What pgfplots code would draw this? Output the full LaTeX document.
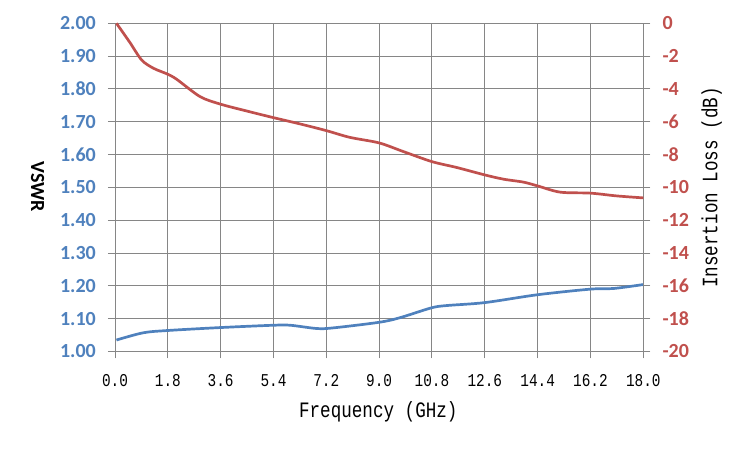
\documentclass[border=0pt]{standalone}
\usepackage{pgfplots}
\pgfplotsset{compat=1.18}
\usepackage{fontspec}
\setmainfont{Carlito}
\newfontfamily\simfont[FakeStretch=0.8]{Liberation Mono}
\definecolor{vblue}{HTML}{4F81BD}
\definecolor{ired}{HTML}{C0504D}
\definecolor{gridgray}{HTML}{868686}
\begin{document}
\begin{tikzpicture}
\path[use as bounding box] (0,0) rectangle (750pt,450pt);
\begin{axis}[
  at={(115pt,98.5pt)}, anchor=south west, scale only axis,
  width=528.3pt, height=328.2pt,
  xmin=0, xmax=18, ymin=1, ymax=2,
  xtick={0,1.8,3.6,5.4,7.2,9,10.8,12.6,14.4,16.2,18},
  xticklabels={0.0,1.8,3.6,5.4,7.2,9.0,10.8,12.6,14.4,16.2,18.0},
  ytick={1,1.1,1.2,1.3,1.4,1.5,1.6,1.7,1.8,1.9,2},
  yticklabels={1.00,1.10,1.20,1.30,1.40,1.50,1.60,1.70,1.80,1.90,2.00},
  grid=major, grid style={color=gridgray, line width=1pt},
  axis x line*=bottom, axis y line*=left,
  axis line style={gridgray, line width=1pt, -},
  tick align=outside, major tick length=7pt,
  tick style={gridgray, line width=1pt},
  xtick pos=bottom, ytick pos=left,
  xticklabel shift=16pt, yticklabel shift=12pt,
  xticklabel style={font=\simfont\fontsize{18}{18}\selectfont, text=black, inner sep=0pt},
  yticklabel style={font=\bfseries\fontsize{20}{20}\selectfont, text=vblue, inner sep=0pt},
  clip=false,
]
\addplot[vblue, line width=2.7pt, smooth, tension=0.5] coordinates {
(0.05,1.035) (0.96,1.057) (1.8,1.064) (3.6,1.073) (5.4,1.080) (5.97,1.080)
(6.88,1.070) (7.44,1.072) (9.0,1.089) (9.71,1.103) (10.78,1.133) (11.3,1.140)
(12.6,1.149) (14.4,1.173) (16.2,1.190) (16.99,1.192) (18.0,1.204)
};
\end{axis}
\begin{axis}[
  at={(115pt,98.5pt)}, anchor=south west, scale only axis,
  width=528.3pt, height=328.2pt,
  xmin=0, xmax=18, ymin=-20, ymax=0,
  axis x line=none, axis y line*=right,
  axis line style={gridgray, line width=1pt, -},
  ytick={-20,-18,-16,-14,-12,-10,-8,-6,-4,-2,0},
  yticklabels={-20,-18,-16,-14,-12,-10,-8,-6,-4,-2,0},
  tick align=outside, major tick length=7pt,
  tick style={gridgray, line width=1pt},
  ytick pos=right, yticklabel shift=12pt,
  yticklabel style={font=\bfseries\fontsize{20}{20}\selectfont, text=ired, inner sep=0pt, anchor=west},
  clip=false,
]
\addplot[ired, line width=2.7pt, smooth, tension=0.5] coordinates {
(0.05,0) (0.5,-1.15) (0.91,-2.24) (1.31,-2.74) (1.78,-3.09) (2.1,-3.41)
(2.9,-4.47) (3.6,-4.93) (4.5,-5.35) (5.4,-5.75) (6.3,-6.13) (7.2,-6.54)
(8.0,-6.95) (9.0,-7.29) (9.83,-7.82) (10.8,-8.43) (11.65,-8.79) (12.6,-9.24)
(13.24,-9.5) (13.92,-9.68) (14.4,-9.91) (15.17,-10.29) (16.2,-10.35)
(17.1,-10.52) (18.0,-10.64)
};
\end{axis}
\node[font=\simfont\fontsize{22}{22}\selectfont] at (378.3pt,38.3pt) {Frequency (GHz)};
\node[font=\bfseries\fontsize{20}{20}\selectfont, rotate=-90] at (37.5pt,263pt) {VSWR};
\node[font=\simfont\fontsize{22}{22}\selectfont, rotate=90] at (711.7pt,262.5pt) {Insertion Loss (dB)};
\end{tikzpicture}
\end{document}
